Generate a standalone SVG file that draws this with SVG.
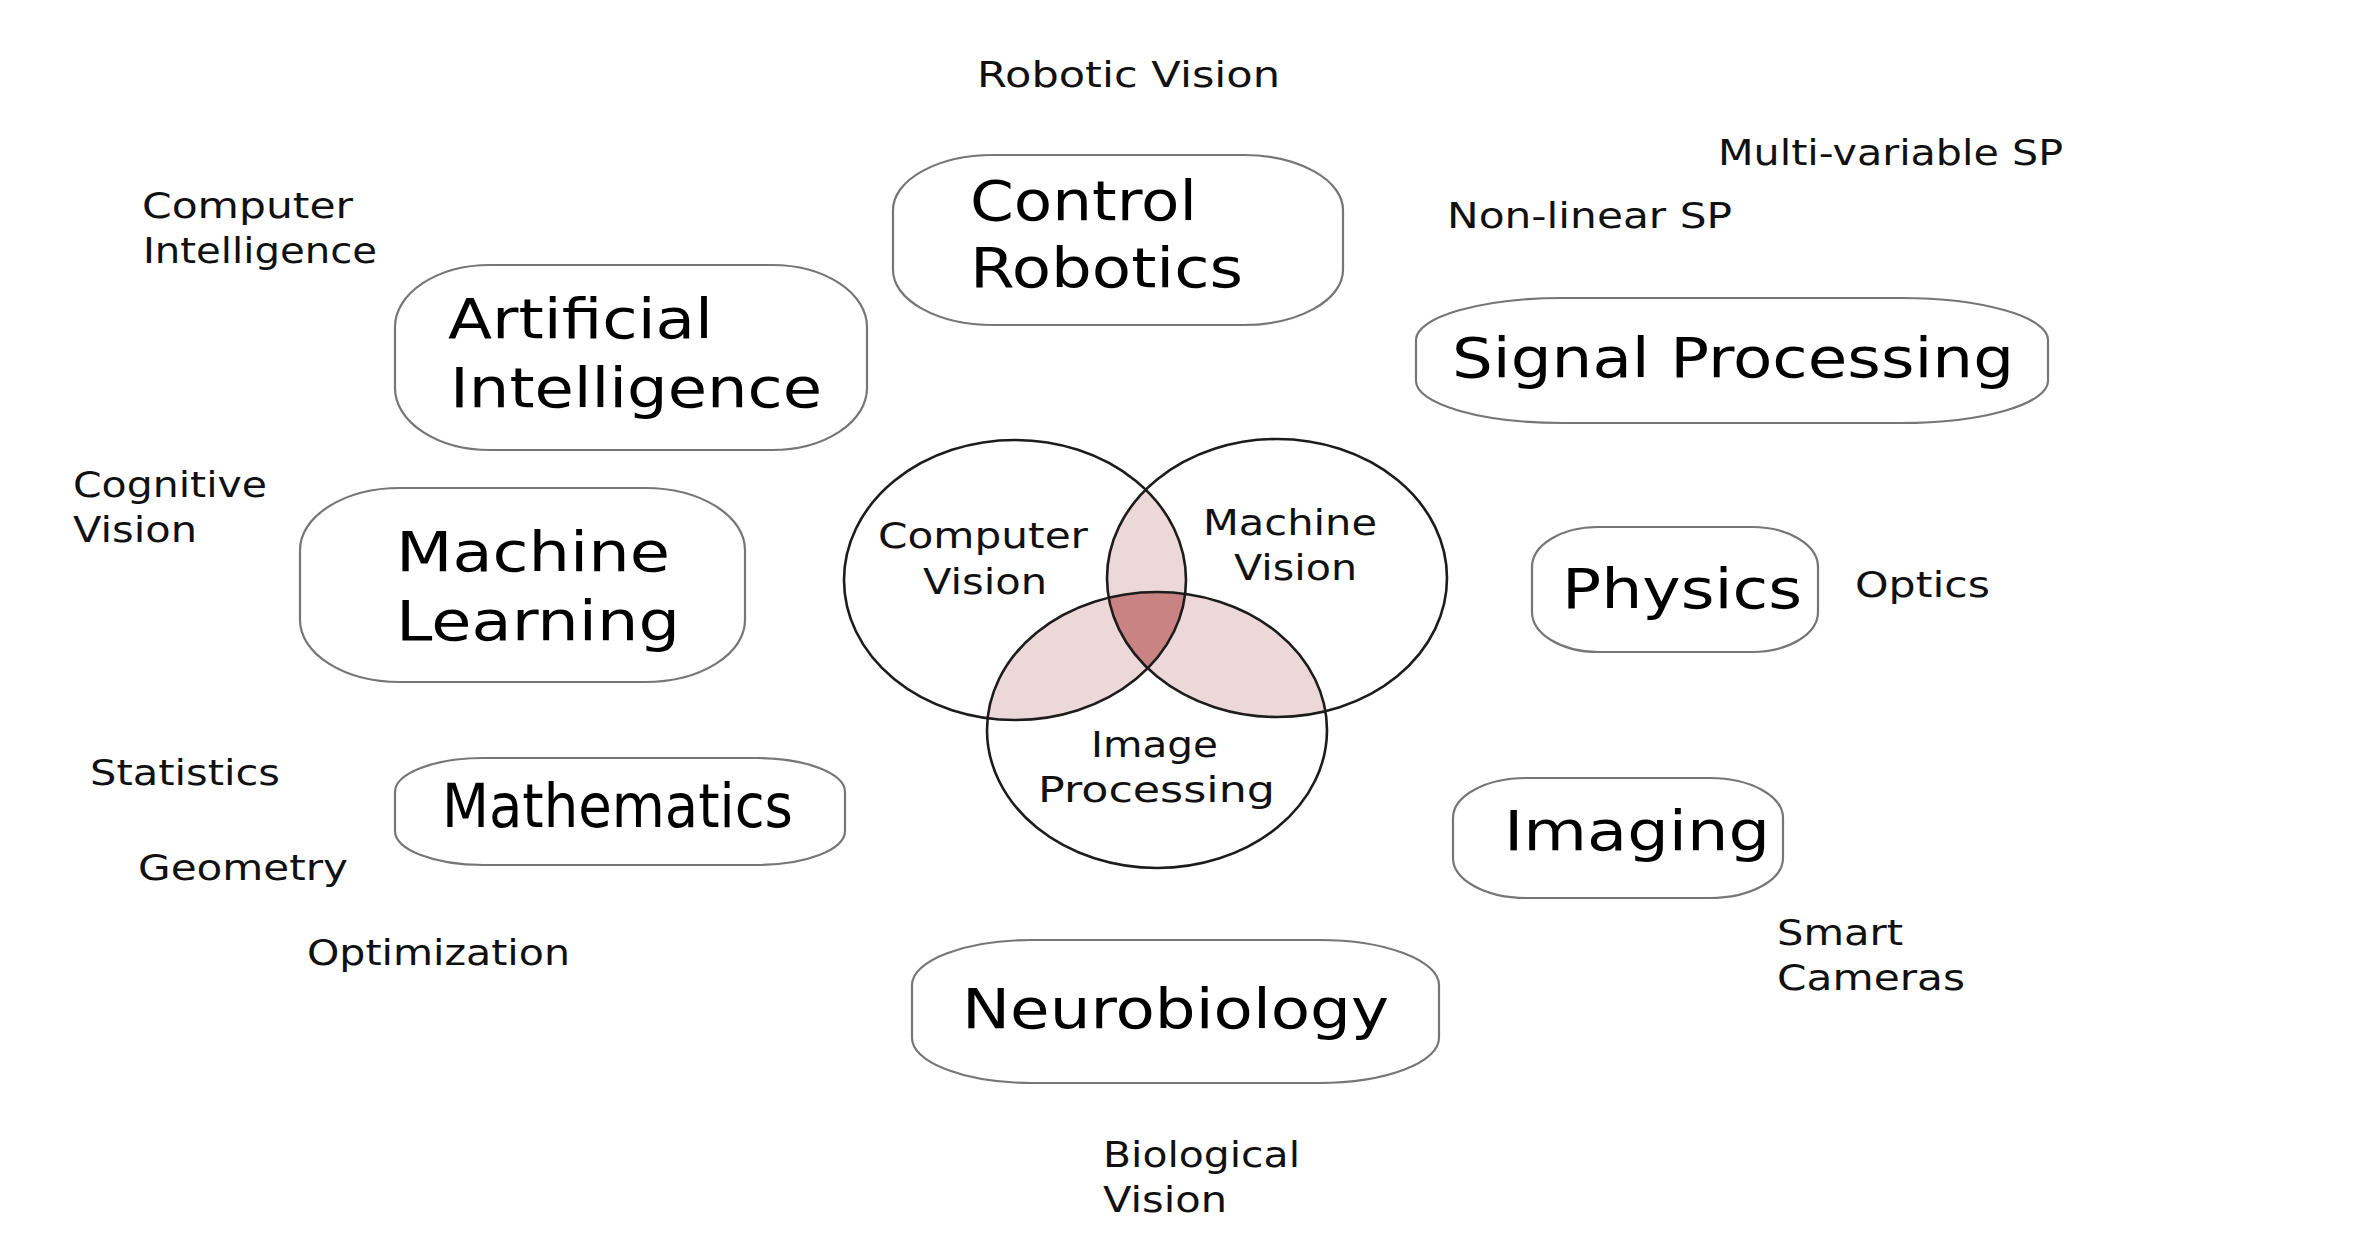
<svg xmlns="http://www.w3.org/2000/svg" width="2354" height="1252" viewBox="0 0 2354 1252">
  <defs>
    <style>
      .box { fill: #ffffff; stroke: #767676; stroke-width: 2.2; }
      .ring { fill: none; stroke: #1c1c1c; stroke-width: 2.6; }
      .big { font-family: "DejaVu Sans", "Liberation Sans", sans-serif; font-size: 56px; fill: #000; }
      .cond { font-family: "DejaVu Sans Condensed", "DejaVu Sans", sans-serif; font-stretch: condensed; font-size: 60px; fill: #000; }
      .small { font-family: "DejaVu Sans", "Liberation Sans", sans-serif; font-size: 35px; fill: #111; }
      .pair { fill: #ecd8d8; }
      .core { fill: #c98383; }
    </style>
    <!-- the three Venn ellipses, reused for fills, clips and outlines -->
    <ellipse id="cvShape" cx="1015" cy="580" rx="171" ry="140"/>
    <ellipse id="mvShape" cx="1277" cy="578" rx="170" ry="139"/>
    <ellipse id="ipShape" cx="1157" cy="730" rx="170" ry="138"/>
    <clipPath id="clipCV"><use href="#cvShape"/></clipPath>
    <clipPath id="clipMV"><use href="#mvShape"/></clipPath>
  </defs>

  <rect width="2354" height="1252" fill="#ffffff"/>

  <!-- Venn diagram of the vision fields -->
  <g id="venn">
    <g clip-path="url(#clipCV)"><use href="#mvShape" class="pair"/></g>
    <g clip-path="url(#clipCV)"><use href="#ipShape" class="pair"/></g>
    <g clip-path="url(#clipMV)"><use href="#ipShape" class="pair"/></g>
    <g clip-path="url(#clipCV)"><g clip-path="url(#clipMV)"><use href="#ipShape" class="core"/></g></g>
    <use href="#cvShape" class="ring"/>
    <use href="#mvShape" class="ring"/>
    <use href="#ipShape" class="ring"/>
    <g id="computer-vision">
      <text class="small" x="878" y="548" textLength="210" lengthAdjust="spacingAndGlyphs">Computer</text>
      <text class="small" x="923" y="594" textLength="124" lengthAdjust="spacingAndGlyphs">Vision</text>
    </g>
    <g id="machine-vision">
      <text class="small" x="1203" y="535" textLength="174" lengthAdjust="spacingAndGlyphs">Machine</text>
      <text class="small" x="1234" y="580" textLength="123" lengthAdjust="spacingAndGlyphs">Vision</text>
    </g>
    <g id="image-processing">
      <text class="small" x="1091" y="757" textLength="127" lengthAdjust="spacingAndGlyphs">Image</text>
      <text class="small" x="1038" y="802" textLength="237" lengthAdjust="spacingAndGlyphs">Processing</text>
    </g>
  </g>

  <!-- neighbouring disciplines -->
  <g id="control-robotics">
    <rect class="box" x="893" y="155" width="450" height="170" rx="100" ry="55"/>
    <text class="big" font-size="53" x="970" y="220" textLength="227" lengthAdjust="spacingAndGlyphs">Control</text>
    <text class="big" font-size="53" x="970" y="287" textLength="273" lengthAdjust="spacingAndGlyphs">Robotics</text>
  </g>
  <g id="artificial-intelligence">
    <rect class="box" x="395" y="265" width="472" height="185" rx="95" ry="62"/>
    <text class="big" font-size="55" x="448" y="338" textLength="265" lengthAdjust="spacingAndGlyphs">Artificial</text>
    <text class="big" font-size="55" x="450" y="407" textLength="372" lengthAdjust="spacingAndGlyphs">Intelligence</text>
  </g>
  <g id="signal-processing">
    <rect class="box" x="1416" y="298" width="632" height="125" rx="147" ry="42"/>
    <text class="big" font-size="57" x="1452" y="377" textLength="562" lengthAdjust="spacingAndGlyphs">Signal Processing</text>
  </g>
  <g id="machine-learning">
    <rect class="box" x="300" y="488" width="445" height="194" rx="100" ry="62"/>
    <text class="big" font-size="57" x="396" y="571" textLength="274" lengthAdjust="spacingAndGlyphs">Machine</text>
    <text class="big" font-size="57" x="396" y="640" textLength="284" lengthAdjust="spacingAndGlyphs">Learning</text>
  </g>
  <g id="physics">
    <rect class="box" x="1532" y="527" width="286" height="125" rx="66" ry="40"/>
    <text class="big" font-size="57" x="1562" y="608" textLength="240" lengthAdjust="spacingAndGlyphs">Physics</text>
  </g>
  <g id="mathematics">
    <rect class="box" x="395" y="758" width="450" height="107" rx="88" ry="34"/>
    <text class="cond" x="442" y="827" textLength="351" lengthAdjust="spacingAndGlyphs">Mathematics</text>
  </g>
  <g id="imaging">
    <rect class="box" x="1453" y="778" width="330" height="120" rx="73" ry="40"/>
    <text class="big" font-size="57" x="1504" y="850" textLength="266" lengthAdjust="spacingAndGlyphs">Imaging</text>
  </g>
  <g id="neurobiology">
    <rect class="box" x="912" y="940" width="527" height="143" rx="120" ry="45"/>
    <text class="big" font-size="57" x="962" y="1028" textLength="427" lengthAdjust="spacingAndGlyphs">Neurobiology</text>
  </g>

  <!-- free-standing sub-topic labels -->
  <g id="labels">
    <text class="small" x="977" y="87" textLength="303" lengthAdjust="spacingAndGlyphs">Robotic Vision</text>
    <text class="small" x="1718" y="165" textLength="345" lengthAdjust="spacingAndGlyphs">Multi-variable SP</text>
    <text class="small" x="1447" y="228" textLength="285" lengthAdjust="spacingAndGlyphs">Non-linear SP</text>
    <text class="small" x="142" y="218" textLength="211" lengthAdjust="spacingAndGlyphs">Computer</text>
    <text class="small" x="143" y="263" textLength="234" lengthAdjust="spacingAndGlyphs">Intelligence</text>
    <text class="small" x="73" y="497" textLength="194" lengthAdjust="spacingAndGlyphs">Cognitive</text>
    <text class="small" x="73" y="542" textLength="124" lengthAdjust="spacingAndGlyphs">Vision</text>
    <text class="small" x="90" y="785" textLength="190" lengthAdjust="spacingAndGlyphs">Statistics</text>
    <text class="small" x="138" y="880" textLength="210" lengthAdjust="spacingAndGlyphs">Geometry</text>
    <text class="small" x="307" y="965" textLength="263" lengthAdjust="spacingAndGlyphs">Optimization</text>
    <text class="small" x="1855" y="597" textLength="135" lengthAdjust="spacingAndGlyphs">Optics</text>
    <text class="small" x="1777" y="945" textLength="126" lengthAdjust="spacingAndGlyphs">Smart</text>
    <text class="small" x="1777" y="990" textLength="188" lengthAdjust="spacingAndGlyphs">Cameras</text>
    <text class="small" x="1103" y="1167" textLength="197" lengthAdjust="spacingAndGlyphs">Biological</text>
    <text class="small" x="1103" y="1212" textLength="124" lengthAdjust="spacingAndGlyphs">Vision</text>
  </g>

  <g id="connectors"/>
</svg>
